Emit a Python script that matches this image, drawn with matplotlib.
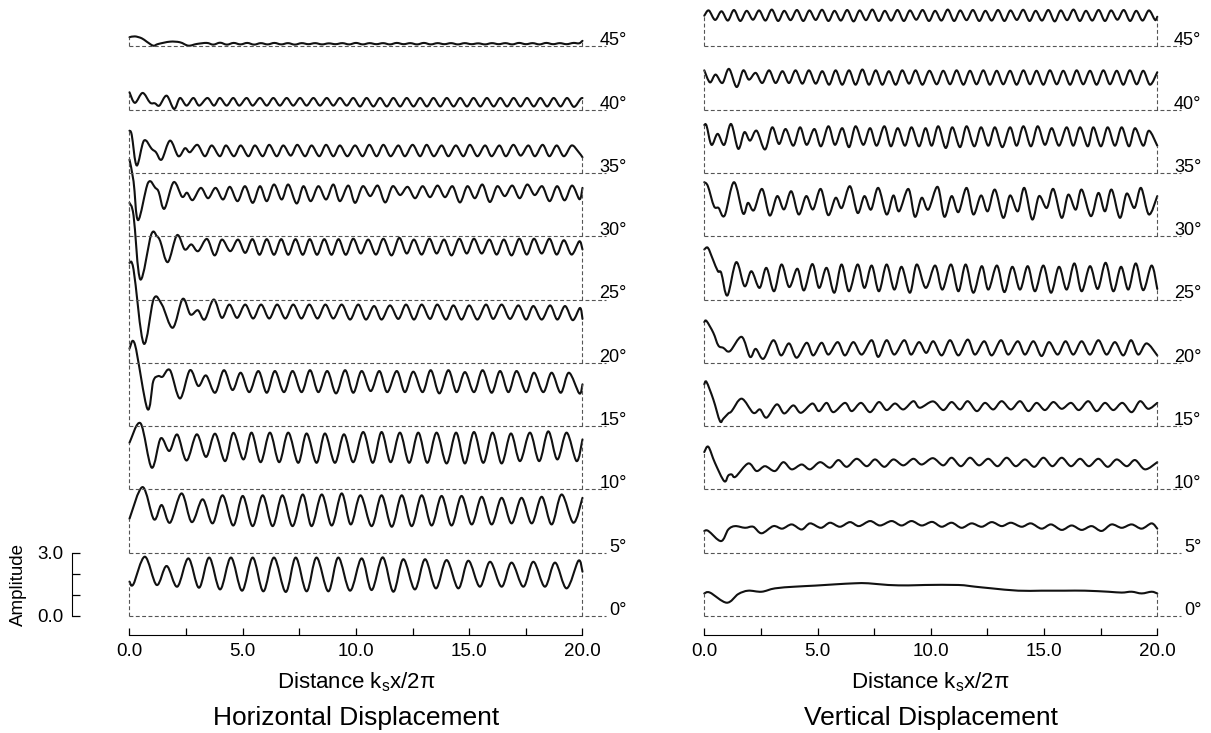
import numpy as np
import matplotlib
matplotlib.use("Agg")
import matplotlib.pyplot as plt
from matplotlib.path import Path
from matplotlib.patches import PathPatch

plt.rcParams['font.family'] = ['Liberation Sans', 'DejaVu Sans']

angles = [0, 5, 10, 15, 20, 25, 30, 35, 40, 45]
step = 3.0  # vertical offset between traces (amplitude units)

# ---- Horizontal displacement (x, amplitude) ----
h0_x = [0, 0.17, 0.68, 1.2, 1.64, 2.11, 2.6, 3.07, 3.52, 4.0, 4.48, 4.97, 5.44, 5.91, 6.38, 6.9, 7.34, 7.82, 8.26, 8.78,
        9.22, 9.74, 10.25, 10.69, 11.18, 11.65, 12.09, 12.6, 13.05, 13.53, 14.0, 14.52, 14.96, 15.47, 15.92, 16.43,
        16.87, 17.39, 17.83, 18.34, 18.79, 19.3, 19.82, 20.0]
h0_y = [1.63, 1.5, 2.81, 1.47, 2.37, 1.39, 2.73, 1.34, 2.77, 1.26, 2.77, 1.2, 2.77, 1.17, 2.77, 1.14, 2.77, 1.17, 2.77, 1.17,
        2.77, 1.2, 2.73, 1.23, 2.78, 1.15, 2.69, 1.26, 2.69, 1.31, 2.65, 1.31, 2.62, 1.39, 2.57, 1.39,
        2.53, 1.39, 2.57, 1.39, 2.53, 1.31, 2.62, 2.1]

h5_x = [0, 0.58, 1.08, 1.42, 1.79, 2.3, 2.75, 3.23, 3.67, 4.11, 4.58, 5.0, 5.44, 5.88, 6.32, 6.75, 7.2, 7.65, 8.04, 8.49,
        8.93, 9.37, 9.77, 10.2, 10.69, 11.13, 11.58, 12.02, 12.46, 12.9, 13.34, 13.78, 14.22, 14.66, 15.11, 15.55,
        15.99, 16.43, 16.87, 17.31, 17.76, 18.2, 18.64, 19.08, 19.6, 20.0]
h5_y = [1.61, 3.11, 1.58, 2.26, 1.42, 2.81, 1.45, 2.53, 1.39, 2.72, 1.29, 2.69, 1.26, 2.72, 1.26, 2.72, 1.26, 2.76, 1.26, 2.76,
        1.29, 2.81, 1.34, 2.72, 1.26, 2.72, 1.23, 2.72, 1.26, 2.72, 1.29, 2.69, 1.29, 2.69, 1.34, 2.65,
        1.34, 2.6, 1.39, 2.6, 1.39, 2.65, 1.34, 2.76, 1.42, 2.6]

h10_x = [0, 0.49, 0.98, 1.38, 1.76, 2.11, 2.52, 2.97, 3.38, 3.78, 4.22, 4.59, 5.03, 5.39, 5.79, 6.2, 6.61, 7.01, 7.45, 7.82,
         8.26, 8.63, 9.07, 9.47, 9.88, 10.32, 10.74, 11.13, 11.53, 11.94, 12.35, 12.75, 13.15, 13.56, 14.0, 14.42,
         14.81, 15.21, 15.62, 16.03, 16.43, 16.84, 17.24, 17.68, 18.09, 18.49, 18.89, 19.3, 19.74, 20.0]
h10_y = [2.21, 3.13, 1.03, 2.42, 1.82, 2.6, 1.37, 2.61, 1.54, 2.64, 1.34, 2.68, 1.42, 2.69, 1.29, 2.69, 1.29, 2.69, 1.26, 2.65,
         1.26, 2.65, 1.26, 2.61, 1.29, 2.72, 1.26, 2.72, 1.29, 2.69, 1.26, 2.69, 1.26, 2.69, 1.23, 2.69,
         1.23, 2.72, 1.26, 2.69, 1.23, 2.65, 1.34, 2.69, 1.34, 2.75, 1.42, 2.69, 1.34, 2.37]

h15_x = [0, 0.24, 0.79, 1.05, 1.27, 1.46, 1.79, 2.23, 2.67, 3.04, 3.38, 3.78, 4.17, 4.55, 4.91, 5.29, 5.69, 6.06, 6.42, 6.82,
         7.2, 7.6, 7.97, 8.34, 8.73, 9.12, 9.52, 9.88, 10.25, 10.65, 11.03, 11.38, 11.8, 12.16, 12.53, 12.94, 13.3,
         13.68, 14.08, 14.44, 14.81, 15.21, 15.59, 15.99, 16.36, 16.73, 17.09, 17.51, 17.86, 18.27, 18.64, 19.04,
         19.4, 19.86, 20.0]
h15_y = [3.67, 3.87, 0.82, 2.13, 2.37, 2.34, 2.65, 1.31, 2.65, 1.9, 2.4, 1.58, 2.65, 1.71, 2.53, 1.61, 2.61, 1.58, 2.61, 1.61,
         2.61, 1.61, 2.65, 1.61, 2.61, 1.55, 2.65, 1.58, 2.61, 1.66, 2.61, 1.61, 2.61, 1.61, 2.58, 1.61, 2.65,
         1.55, 2.65, 1.61, 2.56, 1.61, 2.65, 1.58, 2.61, 1.61, 2.61, 1.61, 2.53, 1.61, 2.53, 1.58,
         2.53, 1.55, 1.98]

h20_x = [0, 0.18, 0.63, 1.07, 1.43, 1.91, 2.35, 2.69, 3.02, 3.32, 3.72, 4.08, 4.41, 4.75, 5.11, 5.46, 5.81, 6.17, 6.52, 6.88,
         7.23, 7.59, 7.94, 8.3, 8.65, 9.0, 9.37, 9.74, 10.1, 10.44, 10.8, 11.13, 11.5, 11.87, 12.21, 12.56, 12.9,
         13.27, 13.59, 13.97, 14.3, 14.66, 15.0, 15.36, 15.74, 16.06, 16.43, 16.8, 17.17, 17.51, 17.83, 18.2,
         18.57, 18.89, 19.23, 19.57, 19.89, 20.0]
h20_y = [4.74, 4.42, 0.91, 3.03, 2.76, 1.66, 3.03, 2.29, 2.49, 2.05, 3.0, 2.13, 2.76, 2.13, 2.76, 2.1, 2.76, 2.1, 2.76, 2.1,
         2.76, 2.1, 2.76, 2.1, 2.76, 2.1, 2.76, 2.05, 2.76, 2.05, 2.69, 2.05, 2.72, 2.08, 2.76, 2.05, 2.76,
         2.08, 2.76, 2.05, 2.72, 2.05, 2.72, 2.05, 2.76, 2.08, 2.76, 2.08, 2.72, 2.05, 2.69, 2.05,
         2.72, 2.05, 2.69, 2.02, 2.6, 2.08]

h25_x = [0, 0.18, 0.48, 0.96, 1.21, 1.36, 1.69, 2.1, 2.44, 2.73, 3.03, 3.42, 3.76, 4.08, 4.45, 4.79, 5.11, 5.43, 5.74, 6.06,
         6.38, 6.7, 7.01, 7.33, 7.65, 7.96, 8.28, 8.6, 8.92, 9.23, 9.55, 9.88, 10.21, 10.54, 10.88, 11.21, 11.57,
         11.91, 12.24, 12.56, 12.9, 13.24, 13.56, 13.89, 14.22, 14.56, 14.89, 15.21, 15.55, 15.89, 16.21, 16.53,
         16.87, 17.21, 17.54, 17.86, 18.2, 18.54, 18.86, 19.18, 19.52, 19.86, 20.0]
h25_y = [4.58, 3.98, 0.95, 3.08, 3.0, 2.76, 1.77, 3.05, 2.37, 2.61, 2.29, 2.87, 2.09, 2.84, 2.29, 2.84, 2.21, 2.86, 2.12, 2.86,
         2.12, 2.86, 2.12, 2.86, 2.12, 2.86, 2.12, 2.86, 2.12, 2.86, 2.12, 2.88, 2.18, 2.84, 2.13, 2.88, 2.09,
         2.92, 2.18, 2.84, 2.13, 2.88, 2.18, 2.84, 2.09, 2.88, 2.18, 2.88, 2.18, 2.84, 2.13, 2.84,
         2.09, 2.88, 2.13, 2.88, 2.18, 2.88, 2.13, 2.81, 2.13, 2.76, 2.37]

h30_x = [0, 0.18, 0.38, 0.82, 1.14, 1.29, 1.54, 1.95, 2.32, 2.54, 2.79, 3.15, 3.47, 3.8, 4.13, 4.43, 4.77, 5.1, 5.44, 5.76,
         6.06, 6.38, 6.72, 7.01, 7.38, 7.68, 8.0, 8.34, 8.68, 9.0, 9.29, 9.66, 9.96, 10.3, 10.63, 10.96, 11.29,
         11.62, 11.95, 12.28, 12.61, 12.94, 13.27, 13.6, 13.93, 14.26, 14.59, 14.92, 15.25, 15.58, 15.91, 16.24,
         16.57, 16.9, 17.23, 17.56, 17.89, 18.22, 18.55, 18.88, 19.21, 19.54, 19.87, 20.0]
h30_y = [3.63, 2.6, 0.76, 2.53, 2.29, 2.1, 1.3, 2.56, 1.87, 2.06, 1.71, 2.29, 1.8, 2.29, 1.74, 2.34, 1.66, 2.37, 1.58, 2.37,
         1.66, 2.45, 1.74, 2.45, 1.55, 2.37, 1.66, 2.37, 1.74, 2.45, 1.66, 2.4, 1.58, 2.37, 1.9, 2.4, 1.6,
         2.37, 1.95, 2.34, 1.8, 2.37, 1.85, 2.4, 1.85, 2.37, 1.6, 2.37, 1.8, 2.45, 1.62, 2.37,
         1.9, 2.4, 1.8, 2.45, 1.95, 2.37, 1.66, 2.37, 1.7, 2.4, 1.75, 2.29]

h35_x = [0, 0.1, 0.32, 0.64, 0.98, 1.17, 1.42, 1.79, 2.16, 2.45, 2.67, 3.0, 3.33, 3.63, 3.99, 4.26, 4.61, 4.91, 5.25, 5.54,
         5.88, 6.17, 6.5, 6.79, 7.12, 7.41, 7.75, 8.04, 8.38, 8.68, 9.0, 9.29, 9.62, 9.96, 10.29, 10.59, 10.91,
         11.21, 11.53, 11.87, 12.16, 12.5, 12.83, 13.12, 13.44, 13.78, 14.08, 14.41, 14.74, 15.03, 15.36, 15.7,
         15.99, 16.33, 16.62, 16.95, 17.27, 17.61, 17.9, 18.24, 18.54, 18.86, 19.18, 19.52, 19.82, 20.0]
h35_y = [2.0, 1.8, 0.35, 1.53, 1.14, 0.98, 0.63, 1.53, 0.79, 1.17, 0.98, 1.33, 0.79, 1.3, 0.79, 1.3, 0.79, 1.3, 0.79, 1.3,
         0.79, 1.33, 0.79, 1.3, 0.82, 1.33, 0.79, 1.3, 0.79, 1.33, 0.79, 1.3, 0.79, 1.3, 0.79, 1.33, 0.79,
         1.33, 0.79, 1.3, 0.79, 1.33, 0.79, 1.33, 0.79, 1.3, 0.79, 1.3, 0.79, 1.33, 0.79, 1.3,
         0.79, 1.3, 0.79, 1.33, 0.82, 1.3, 0.79, 1.33, 0.79, 1.3, 0.79, 1.3, 1.0, 0.74]

h40_x = [0, 0.24, 0.58, 0.91, 1.12, 1.32, 1.64, 1.97, 2.23, 2.52, 2.82, 3.08, 3.44, 3.73, 3.99, 4.29, 4.58, 4.85, 5.17, 5.44,
         5.76, 6.06, 6.35, 6.64, 6.94, 7.23, 7.53, 7.82, 8.12, 8.41, 8.71, 9.0, 9.29, 9.59, 9.88, 10.18, 10.47,
         10.77, 11.06, 11.36, 11.65, 11.95, 12.24, 12.54, 12.83, 13.13, 13.42, 13.72, 14.01, 14.31, 14.6, 14.9,
         15.19, 15.49, 15.78, 16.08, 16.37, 16.67, 16.96, 17.26, 17.55, 17.85, 18.14, 18.44, 18.73, 19.03, 19.32,
         19.62, 19.91, 20.0]
h40_y = [0.82, 0.32, 0.79, 0.33, 0.3, 0.19, 0.66, 0.03, 0.55, 0.19, 0.55, 0.19, 0.55, 0.19, 0.55, 0.19, 0.55, 0.19, 0.55, 0.19,
         0.55, 0.19, 0.55, 0.19, 0.55, 0.19, 0.55, 0.19, 0.55, 0.19, 0.55, 0.19, 0.55, 0.19, 0.55, 0.15, 0.55,
         0.15, 0.55, 0.15, 0.55, 0.15, 0.55, 0.15, 0.55, 0.15, 0.55, 0.15, 0.55, 0.15, 0.55, 0.15,
         0.55, 0.15, 0.55, 0.15, 0.55, 0.15, 0.55, 0.15, 0.55, 0.15, 0.55, 0.15, 0.55, 0.15, 0.55,
         0.13, 0.5, 0.55]

h45_x = [0, 0.24, 0.54, 0.76, 1.05, 1.27, 1.79, 2.23, 2.6, 2.97, 3.41, 3.7, 4.0, 4.3, 4.6, 4.9, 5.2, 5.5, 5.8, 6.1,
         6.4, 6.7, 7.0, 7.3, 7.6, 7.9, 8.2, 8.5, 8.8, 9.1, 9.4, 9.7, 10.0, 10.3, 10.6, 10.9, 11.2, 11.5, 11.8,
         12.1, 12.4, 12.7, 13.0, 13.3, 13.6, 13.9, 14.2, 14.5, 14.8, 15.1, 15.4, 15.7, 16.0, 16.3, 16.6, 16.9,
         17.2, 17.5, 17.8, 18.1, 18.4, 18.7, 19.0, 19.3, 19.6, 19.85, 20.0]
h45_y = [0.43, 0.47, 0.38, 0.22, 0.03, 0.11, 0.22, 0.19, 0.03, 0.11, 0.16, 0.08, 0.17, 0.08, 0.16, 0.09, 0.16, 0.08, 0.15, 0.09,
         0.16, 0.09, 0.15, 0.08, 0.15, 0.1, 0.15, 0.09, 0.14, 0.1, 0.15, 0.09, 0.16, 0.09, 0.15, 0.1, 0.15, 0.09, 0.16,
         0.1, 0.15, 0.09, 0.16, 0.09, 0.15, 0.1, 0.15, 0.09, 0.15, 0.1, 0.14, 0.09, 0.15, 0.1, 0.15, 0.09,
         0.16, 0.1, 0.15, 0.09, 0.16, 0.1, 0.15, 0.1, 0.16, 0.14, 0.26]

# ---- Vertical displacement ----
v0_x = [0, 0.25, 0.99, 1.5, 1.94, 2.53, 3.12, 4.0, 4.89, 5.77, 6.65, 7.24, 8.12, 9.01, 9.74, 11.22, 11.95, 12.69, 13.86,
        14.89, 15.92, 16.81, 17.84, 18.43, 18.87, 19.31, 19.75, 20.0]
v0_y = [1.07, 1.11, 0.63, 1.04, 1.2, 1.15, 1.31, 1.39, 1.44, 1.5, 1.55, 1.55, 1.47, 1.45, 1.47, 1.47, 1.39, 1.31, 1.2,
        1.2, 1.2, 1.2, 1.15, 1.11, 1.15, 1.07, 1.15, 1.07]

v5_x = [0, 0.18, 0.74, 1.06, 1.36, 1.8, 2.16, 2.53, 3.05, 3.44, 3.86, 4.3, 4.67, 5.15, 5.55, 5.99, 6.43, 6.83, 7.32, 7.76,
        8.27, 8.71, 9.15, 9.6, 10.06, 10.48, 10.92, 11.36, 11.8, 12.25, 12.69, 13.13, 13.54, 14.01, 14.42, 14.89,
        15.31, 15.78, 16.22, 16.66, 17.1, 17.54, 17.98, 18.43, 18.87, 19.31, 19.75, 20.0]
v5_y = [1.03, 1.03, 0.55, 1.1, 1.26, 1.18, 1.23, 0.92, 1.26, 1.14, 1.34, 1.1, 1.39, 1.18, 1.42, 1.23, 1.45, 1.26, 1.5, 1.29,
        1.5, 1.29, 1.5, 1.29, 1.46, 1.23, 1.42, 1.18, 1.39, 1.23, 1.45, 1.26, 1.42, 1.23, 1.39, 1.14,
        1.34, 1.08, 1.29, 1.08, 1.26, 1.03, 1.34, 1.18, 1.34, 1.14, 1.39, 1.14]

v10_x = [0, 0.18, 0.47, 0.88, 1.06, 1.21, 1.38, 1.94, 2.31, 2.68, 3.12, 3.49, 3.86, 4.3, 4.67, 5.11, 5.55, 5.92, 6.29, 6.73,
         7.17, 7.54, 7.95, 8.35, 8.79, 9.23, 9.6, 10.09, 10.55, 10.92, 11.33, 11.73, 12.13, 12.54, 12.95, 13.35,
         13.75, 14.16, 14.57, 14.97, 15.37, 15.78, 16.19, 16.59, 16.98, 17.4, 17.81, 18.21, 18.65, 19.02, 19.46, 20.0]
v10_y = [1.77, 2.02, 1.26, 0.39, 0.66, 0.71, 0.6, 1.23, 0.87, 1.1, 0.87, 1.29, 0.95, 1.18, 0.95, 1.29, 1.03, 1.39, 1.07, 1.45,
         1.1, 1.42, 1.07, 1.42, 1.14, 1.45, 1.18, 1.48, 1.14, 1.5, 1.1, 1.5, 1.14, 1.45, 1.1, 1.5,
         1.1, 1.42, 1.07, 1.5, 1.1, 1.5, 1.1, 1.45, 1.1, 1.45, 1.07, 1.42, 1.1, 1.39, 0.95, 1.29]

v15_x = [0, 0.1, 0.4, 0.69, 0.84, 1.06, 1.21, 1.65, 2.16, 2.46, 2.75, 3.2, 3.53, 3.93, 4.27, 4.77, 5.06, 5.4, 5.7, 6.21,
         6.51, 6.92, 7.32, 7.71, 8.05, 8.42, 8.79, 9.23, 9.52, 10.1, 10.55, 10.92, 11.29, 11.63, 12.03, 12.39,
         12.76, 13.13, 13.54, 13.94, 14.31, 14.67, 15.04, 15.41, 15.78, 16.19, 16.54, 16.95, 17.32, 17.69, 18.06,
         18.46, 18.87, 19.24, 19.6, 20.0]
v15_y = [1.98, 2.09, 1.26, 0.24, 0.35, 0.6, 0.71, 1.3, 0.63, 0.79, 0.4, 1.03, 0.6, 0.98, 0.63, 1.07, 0.71, 1.1, 0.66, 1.1,
         0.71, 1.1, 0.66, 1.14, 0.76, 1.07, 0.79, 1.18, 0.87, 1.17, 0.76, 1.14, 0.79, 1.18, 0.71, 1.1,
         0.79, 1.18, 0.79, 1.18, 0.71, 1.1, 0.76, 1.14, 0.82, 1.1, 0.76, 1.18, 0.71, 1.1, 0.76,
         1.1, 0.66, 1.18, 0.82, 1.1]

v20_x = [0, 0.1, 0.4, 0.62, 0.84, 1.13, 1.65, 2.02, 2.27, 2.61, 3.05, 3.39, 3.74, 4.08, 4.52, 4.81, 5.18, 5.48, 5.89, 6.21,
         6.58, 6.95, 7.39, 7.68, 8.05, 8.39, 8.83, 9.13, 9.48, 9.8, 10.11, 10.48, 10.85, 11.22, 11.63, 11.95,
         12.36, 12.69, 13.1, 13.42, 13.84, 14.16, 14.53, 14.89, 15.22, 15.6, 15.95, 16.29, 16.66, 17.03, 17.4,
         17.76, 18.13, 18.5, 18.84, 19.16, 19.53, 20.0]
v20_y = [1.93, 1.98, 1.42, 0.82, 0.71, 0.55, 1.23, 0.28, 0.66, 0.19, 1.07, 0.35, 0.92, 0.24, 0.95, 0.35, 0.95, 0.39, 0.98, 0.35,
         0.98, 0.39, 1.07, 0.28, 1.07, 0.39, 1.07, 0.39, 0.98, 0.47, 1.02, 0.35, 1.07, 0.35, 1.1, 0.39,
         1.02, 0.35, 1.07, 0.39, 1.02, 0.39, 1.02, 0.32, 0.98, 0.39, 1.02, 0.39, 1.02, 0.39, 1.07,
         0.39, 0.98, 0.35, 1.07, 0.39, 0.92, 0.35]

v25_x = [0, 0.16, 0.38, 0.6, 0.75, 1.02, 1.41, 1.78, 2.08, 2.44, 2.74, 3.08, 3.41, 3.75, 4.11, 4.4, 4.77, 5.07, 5.4, 5.74,
         6.06, 6.39, 6.77, 7.07, 7.39, 7.71, 8.05, 8.39, 8.71, 9.08, 9.38, 9.78, 10.19, 10.51, 10.89, 11.22, 11.54,
         11.88, 12.25, 12.54, 12.92, 13.25, 13.6, 13.94, 14.28, 14.6, 14.97, 15.31, 15.66, 16.0, 16.34, 16.66,
         17.03, 17.37, 17.72, 18.06, 18.4, 18.72, 19.05, 19.38, 19.75, 20.0]
v25_y = [2.37, 2.45, 1.9, 1.34, 1.26, 0.19, 1.77, 0.63, 1.34, 0.55, 1.5, 0.39, 1.66, 0.59, 1.46, 0.43, 1.68, 0.55, 1.5, 0.32,
         1.66, 0.39, 1.66, 0.55, 1.61, 0.39, 1.66, 0.47, 1.55, 0.32, 1.66, 0.55, 1.61, 0.47, 1.66, 0.39, 1.66,
         0.32, 1.58, 0.47, 1.61, 0.35, 1.55, 0.47, 1.58, 0.39, 1.61, 0.32, 1.55, 0.47, 1.71, 0.39,
         1.58, 0.5, 1.74, 0.39, 1.55, 0.47, 1.71, 0.44, 1.61, 0.5]

v30_x = [0, 0.16, 0.43, 0.63, 0.9, 1.31, 1.71, 1.93, 2.19, 2.55, 2.89, 3.22, 3.52, 3.84, 4.17, 4.5, 4.8, 5.14, 5.47, 5.8,
         6.07, 6.43, 6.77, 7.07, 7.36, 7.68, 8.05, 8.35, 8.6, 9.01, 9.3, 9.6, 9.89, 10.3, 10.6, 10.92, 11.22,
         11.58, 11.88, 12.22, 12.51, 12.83, 13.2, 13.5, 13.84, 14.13, 14.48, 14.78, 15.12, 15.41, 15.78, 16.07,
         16.4, 16.66, 17.07, 17.4, 17.69, 17.98, 18.35, 18.65, 18.99, 19.28, 19.63, 20.0]
v30_y = [2.56, 2.37, 1.42, 1.34, 0.98, 2.56, 1.08, 1.58, 1.23, 2.24, 0.98, 1.9, 1.27, 2.13, 1.03, 1.9, 1.27, 2.24, 1.0, 1.82,
         1.34, 2.37, 1.1, 1.9, 1.26, 2.29, 1.03, 1.93, 1.18, 2.24, 0.92, 1.82, 1.26, 2.34, 0.92, 1.9, 1.14,
         2.29, 1.03, 1.93, 1.18, 2.21, 0.87, 1.93, 1.18, 2.29, 0.79, 1.9, 1.34, 2.24, 0.87, 1.97,
         1.26, 2.21, 0.95, 2.05, 1.18, 2.21, 0.87, 2.02, 1.34, 2.29, 1.03, 1.9]

v35_x = [0, 0.1, 0.32, 0.59, 0.88, 1.18, 1.5, 1.77, 2.02, 2.31, 2.68, 3.0, 3.3, 3.59, 3.93, 4.23, 4.52, 4.86, 5.15, 5.48,
         5.77, 6.09, 6.39, 6.68, 7.02, 7.32, 7.61, 7.95, 8.24, 8.54, 8.86, 9.15, 9.48, 9.77, 10.04, 10.33, 10.66,
         10.95, 11.29, 11.58, 11.92, 12.22, 12.54, 12.83, 13.16, 13.5, 13.79, 14.09, 14.42, 14.72, 15.04, 15.34,
         15.66, 16.0, 16.29, 16.59, 16.93, 17.18, 17.51, 17.81, 18.13, 18.43, 18.75, 19.02, 19.38, 19.63, 20.0]
v35_y = [2.27, 2.24, 1.33, 1.85, 1.33, 2.32, 1.14, 1.93, 1.53, 2.0, 1.11, 2.16, 1.37, 2.08, 1.29, 2.16, 1.33, 2.08, 1.26, 2.21,
         1.33, 2.12, 1.22, 2.21, 1.33, 2.12, 1.29, 2.21, 1.26, 2.12, 1.29, 2.16, 1.26, 2.12, 1.29, 2.21, 1.18,
         2.16, 1.22, 2.21, 1.26, 2.16, 1.29, 2.16, 1.22, 2.16, 1.29, 2.21, 1.26, 2.21, 1.33, 2.12,
         1.29, 2.16, 1.29, 2.16, 1.26, 2.16, 1.26, 2.16, 1.29, 2.16, 1.26, 2.12, 1.29, 2.0, 1.29]

v40_x = [0, 0.25, 0.5, 0.8, 1.09, 1.43, 1.72, 1.97, 2.27, 2.56, 2.86, 3.15, 3.45, 3.74, 4.03, 4.33, 4.62, 4.92, 5.21, 5.51,
         5.8, 6.09, 6.39, 6.68, 6.98, 7.27, 7.57, 7.86, 8.15, 8.45, 8.74, 9.04, 9.33, 9.63, 9.94, 10.26, 10.55,
         10.85, 11.14, 11.44, 11.73, 12.02, 12.32, 12.61, 12.91, 13.2, 13.5, 13.79, 14.09, 14.38, 14.67, 14.97,
         15.26, 15.56, 15.85, 16.15, 16.44, 16.73, 17.03, 17.32, 17.62, 17.91, 18.21, 18.5, 18.79, 19.09, 19.38,
         19.68, 20.0]
v40_y = [1.86, 1.29, 1.66, 1.26, 1.93, 1.07, 1.86, 1.42, 1.74, 1.26, 1.86, 1.26, 1.82, 1.26, 1.86, 1.23, 1.86, 1.23, 1.82, 1.18,
         1.86, 1.18, 1.86, 1.18, 1.9, 1.18, 1.86, 1.18, 1.82, 1.18, 1.86, 1.23, 1.86, 1.18, 1.84, 1.2, 1.84,
         1.2, 1.86, 1.18, 1.84, 1.2, 1.86, 1.18, 1.84, 1.2, 1.84, 1.18, 1.86, 1.2, 1.84, 1.18,
         1.86, 1.2, 1.84, 1.18, 1.86, 1.2, 1.84, 1.18, 1.86, 1.2, 1.84, 1.18, 1.86, 1.2, 1.84,
         1.18, 1.77]

v45_x = [0, 0.2, 0.48, 0.76, 1.04, 1.31, 1.59, 1.87, 2.15, 2.42, 2.7, 2.98, 3.26, 3.53, 3.81, 4.09, 4.37, 4.64, 4.92, 5.2,
         5.48, 5.75, 6.03, 6.31, 6.59, 6.86, 7.14, 7.42, 7.7, 7.97, 8.25, 8.53, 8.81, 9.08, 9.36, 9.64, 9.92,
         10.19, 10.47, 10.75, 11.03, 11.3, 11.58, 11.86, 12.14, 12.41, 12.69, 12.97, 13.25, 13.52, 13.8, 14.08,
         14.36, 14.63, 14.91, 15.19, 15.47, 15.74, 16.02, 16.3, 16.58, 16.85, 17.13, 17.41, 17.69, 17.96, 18.24,
         18.52, 18.8, 19.07, 19.35, 19.63, 19.9, 20.0]
v45_y = [1.45, 1.7, 1.25, 1.66, 1.22, 1.72, 1.2, 1.68, 1.26, 1.7, 1.22, 1.74, 1.2, 1.68, 1.24, 1.72, 1.2, 1.7, 1.25, 1.73,
         1.2, 1.68, 1.22, 1.72, 1.18, 1.7, 1.24, 1.74, 1.2, 1.68, 1.22, 1.72, 1.2, 1.7, 1.26, 1.72, 1.2,
         1.68, 1.22, 1.74, 1.2, 1.7, 1.24, 1.72, 1.2, 1.68, 1.22, 1.72, 1.2, 1.7, 1.25, 1.73,
         1.2, 1.68, 1.22, 1.72, 1.18, 1.7, 1.24, 1.74, 1.2, 1.68, 1.22, 1.72, 1.2, 1.7, 1.26,
         1.72, 1.2, 1.68, 1.22, 1.7, 1.25, 1.4]

horiz = [(h0_x, h0_y), (h5_x, h5_y), (h10_x, h10_y), (h15_x, h15_y), (h20_x, h20_y),
         (h25_x, h25_y), (h30_x, h30_y), (h35_x, h35_y), (h40_x, h40_y), (h45_x, h45_y)]
vert = [(v0_x, v0_y), (v5_x, v5_y), (v10_x, v10_y), (v15_x, v15_y), (v20_x, v20_y),
        (v25_x, v25_y), (v30_x, v30_y), (v35_x, v35_y), (v40_x, v40_y), (v45_x, v45_y)]


def smooth_path(xs, ys):
    # Catmull-Rom style curve through the read points, drawn as bezier segments
    p = np.column_stack([xs, ys]).astype(float)
    verts = [p[0]]
    codes = [Path.MOVETO]
    for i in range(len(p) - 1):
        a = p[max(i - 1, 0)]
        b = p[i]
        c = p[i + 1]
        d = p[min(i + 2, len(p) - 1)]
        verts += [b + (c - a) / 6.0, c - (d - b) / 6.0, c]
        codes += [Path.CURVE4] * 3
    return Path(verts, codes)


dash = dict(color='#555555', lw=0.8, ls=(0, (3.5, 2.2)), clip_on=False)


def draw_panel(ax, traces, with_scale):
    for i, (xs, ys) in enumerate(traces):
        base = i * step
        yy = np.asarray(ys) + base
        ax.add_patch(PathPatch(smooth_path(xs, yy), fill=False, lw=1.5, ec='#111111',
                               capstyle='round', joinstyle='round', clip_on=False))
        ax.plot([0, 21.05], [base, base], **dash)
        ax.plot([0, 0], [base, yy[0]], **dash)
        ax.plot([20, 20], [base, yy[-1]], **dash)
        ax.text(21.95, base + 0.05, f"{angles[i]}°", ha='right', va='baseline', fontsize=13)

    ax.set_xlim(-3.2, 21.8)
    ax.set_ylim(-0.5, 29)
    for s in ['top', 'right']:
        ax.spines[s].set_visible(False)
    ax.spines['bottom'].set_position(('data', -0.9))
    ax.spines['bottom'].set_bounds(0, 20)
    ax.set_xticks([0, 5, 10, 15, 20])
    ax.set_xticklabels(['0.0', '5.0', '10.0', '15.0', '20.0'])
    ax.set_xticks([2.5, 7.5, 12.5, 17.5], minor=True)
    ax.tick_params(axis='x', which='both', direction='in', length=5, width=0.9, labelsize=13.5, pad=6)
    if with_scale:
        ax.spines['left'].set_position(('data', -2.54))
        ax.spines['left'].set_bounds(0, 3)
        ax.set_yticks([0, 1, 2, 3])
        ax.set_yticklabels(['0.0', '', '', '3.0'])
        ax.tick_params(axis='y', direction='in', length=5.5, width=0.9, labelsize=13.5, pad=6)
    else:
        ax.spines['left'].set_visible(False)
        ax.set_yticks([])
    ax.patch.set_visible(False)


fig = plt.figure(figsize=(12.11, 7.33), dpi=100)
W, H = 1211, 733
ax1 = fig.add_axes([57.0 / W, 106.45 / H, 566.25 / W, 622.45 / H])
ax2 = fig.add_axes([631.8 / W, 106.45 / H, 566.25 / W, 622.45 / H])

draw_panel(ax1, horiz, True)
draw_panel(ax2, vert, False)

xlab = r'Distance k$_\mathregular{s}$x/2π'
fig.text(356 / W, 1 - 682 / H, xlab, ha='center', va='center', fontsize=16)
fig.text(930.7 / W, 1 - 682 / H, xlab, ha='center', va='center', fontsize=16)
fig.text(356 / W, 1 - 718 / H, 'Horizontal Displacement', ha='center', va='center', fontsize=19)
fig.text(930.7 / W, 1 - 718 / H, 'Vertical Displacement', ha='center', va='center', fontsize=19)
fig.text(18 / W, 1 - 585 / H, 'Amplitude', ha='center', va='center', rotation=90, fontsize=13.5)

fig.savefig('out.png', dpi=100)
